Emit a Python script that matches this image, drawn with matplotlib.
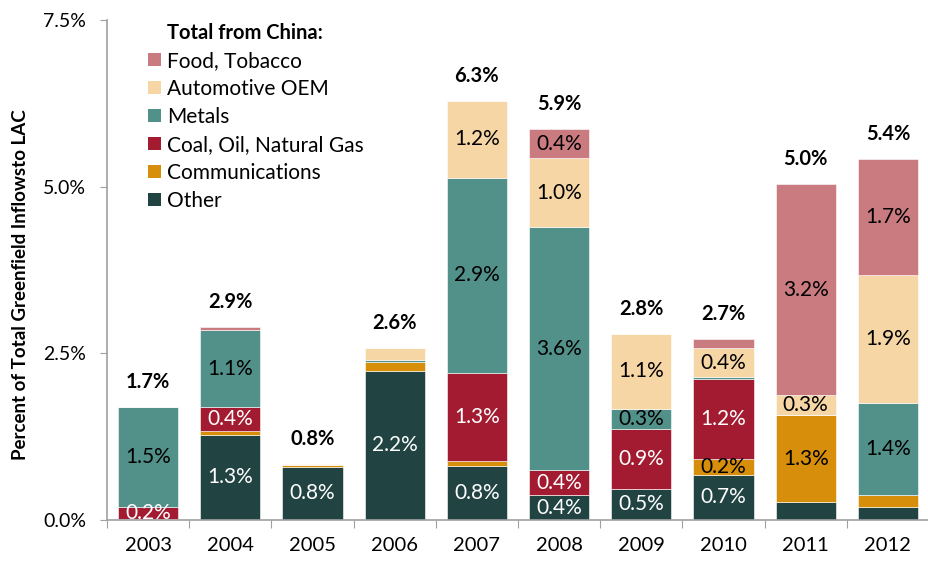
import matplotlib
matplotlib.use("Agg")
import matplotlib.pyplot as plt
from matplotlib.patches import Patch
import numpy as np

years = ["2003", "2004", "2005", "2006", "2007", "2008", "2009", "2010", "2011", "2012"]

other   = [0.01, 1.28, 0.80, 2.24, 0.81, 0.37, 0.47, 0.68, 0.27, 0.20]
comm    = [0.00, 0.06, 0.03, 0.135, 0.07, 0.00, 0.00, 0.24, 1.30, 0.17]
coal    = [0.19, 0.35, 0.00, 0.00, 1.33, 0.38, 0.89, 1.19, 0.00, 0.00]
metals  = [1.50, 1.16, 0.00, 0.025, 2.92, 3.64, 0.31, 0.03, 0.00, 1.39]
auto    = [0.00, 0.00, 0.01, 0.175, 1.16, 1.04, 1.12, 0.44, 0.30, 1.91]
food    = [0.00, 0.04, 0.00, 0.00, 0.00, 0.43, 0.00, 0.14, 3.17, 1.74]

other_lbl  = ["", "1.3%", "0.8%", "2.2%", "0.8%", "0.4%", "0.5%", "0.7%", "", ""]
comm_lbl   = ["", "", "", "", "", "", "", "0.2%", "1.3%", ""]
coal_lbl   = ["0.2%", "0.4%", "", "", "1.3%", "0.4%", "0.9%", "1.2%", "", ""]
metals_lbl = ["1.5%", "1.1%", "", "", "2.9%", "3.6%", "0.3%", "", "", "1.4%"]
auto_lbl   = ["", "", "", "", "1.2%", "1.0%", "1.1%", "0.4%", "0.3%", "1.9%"]
food_lbl   = ["", "", "", "", "", "0.4%", "", "", "3.2%", "1.7%"]

series_names = ["Other", "Communications", "Coal, Oil, Natural Gas", "Metals", "Automotive OEM", "Food, Tobacco"]
series_vals = [other, comm, coal, metals, auto, food]
series_lbls = [other_lbl, comm_lbl, coal_lbl, metals_lbl, auto_lbl, food_lbl]
colors = ["#214443", "#D68E0B", "#A31B31", "#52908A", "#F7D6A6", "#C97B80"]
label_colors = ["white", "black", "white", "black", "black", "black"]

plt.rcParams['font.family'] = ['Lato', 'DejaVu Sans']

W, H = 929, 561
fig = plt.figure(figsize=(W / 100, H / 100), dpi=100)
ax = fig.add_axes([107 / W, 41 / H, (929 - 107) / W, 500 / H])

x = np.arange(len(years))
bw = 0.73
bottom = np.zeros(len(years))
for vals, lbls, col, lc in zip(series_vals, series_lbls, colors, label_colors):
    v = np.array(vals)
    ax.bar(x, v, bw, bottom=bottom, color=col, edgecolor="white", linewidth=0.4)
    for i in range(len(years)):
        if lbls[i]:
            ax.text(x[i], bottom[i] + v[i] / 2, lbls[i], ha="center", va="center",
                    fontsize=15, color=lc)
    bottom = bottom + v

for i in range(len(years)):
    ax.annotate(f"{bottom[i]:.1f}%", (x[i], bottom[i]), xytext=(0, 18),
                textcoords="offset points", ha="center", va="center",
                fontsize=14.5, fontweight="bold", color="black")

ax.set_xlim(-0.5, 9.37)
ax.set_ylim(0, 7.5)
ax.set_yticks([0, 2.5, 5.0, 7.5])
ax.set_yticklabels(["0.0%", "2.5%", "5.0%", "7.5%"])
ax.set_xticks(np.arange(-0.5, 10, 1.0))
ax.set_xticklabels([])
ax.set_xticks(x, minor=True)
ax.set_xticklabels(years, minor=True)
ax.tick_params(axis="x", which="major", length=6, color="#A0A0A0", direction="out")
ax.tick_params(axis="x", which="minor", length=0, pad=12, labelsize=14.5)
ax.tick_params(axis="y", length=5, color="#A0A0A0", pad=10, labelsize=14)

for s in ["top", "right"]:
    ax.spines[s].set_visible(False)
for s in ["left", "bottom"]:
    ax.spines[s].set_color("#A0A0A0")
    ax.spines[s].set_linewidth(1.2)

fig.text(21 / W, 1 - 285 / H, "Percent of Total Greenfield Inflowsto LAC",
         rotation=90, ha="center", va="center", fontsize=13.5, fontweight="bold")

handles = [Patch(facecolor=c, label=n) for n, c in zip(series_names[::-1], colors[::-1])]
leg = ax.legend(handles=handles, loc="upper left", bbox_to_anchor=((148 - 107) / (929 - 107), 1 - 31 / 500),
                frameon=False, fontsize=15, handlelength=0.62, handleheight=0.62,
                handletextpad=0.3, labelspacing=0.38, borderaxespad=0, borderpad=0)
fig.text(167 / W, 1 - 33 / H, "Total from China:", ha="left", va="center",
         fontsize=14.5, fontweight="bold")

fig.savefig("out.png", dpi=100)
